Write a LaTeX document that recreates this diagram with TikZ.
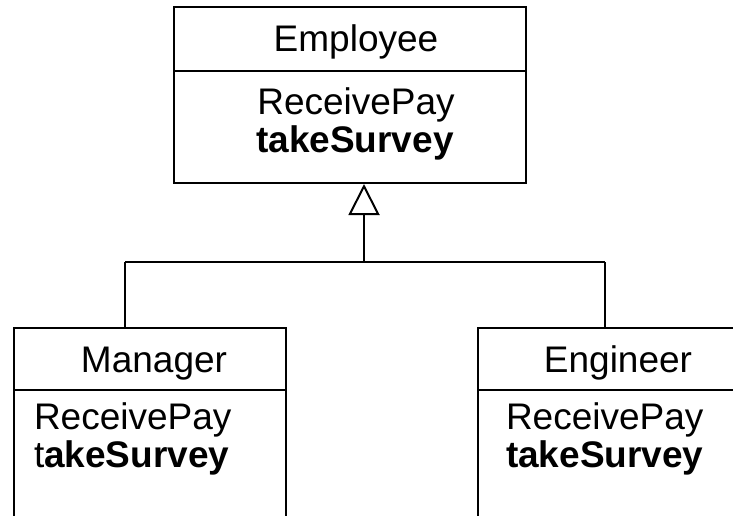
\documentclass[tikz,border=0pt]{standalone}
\usepackage{fontspec}
\setmainfont{Liberation Sans}
\usetikzlibrary{arrows.meta}
\begin{document}
\begin{tikzpicture}[x=1pt,y=-1pt,line width=2pt,
  cls/.style={draw,rectangle,inner sep=0pt,anchor=north west},
  txt/.style={inner sep=0pt,font=\fontsize{37}{38}\selectfont},
  gen/.style={-{Triangle[open,length=31pt,width=31pt]}}]
\useasboundingbox (0,0) rectangle (733,515);
\clip (0,0) rectangle (733,515);
% classes
\node[cls,minimum width=352pt,minimum height=176pt] (emp) at (173,6) {};
\node[cls,minimum width=272pt,minimum height=220pt] (mgr) at (13,327) {};
\node[cls,minimum width=300pt,minimum height=220pt] (eng) at (477,327) {};
% dividers
\draw (173,71) -- (525,71);
\draw (13,390) -- (285,390);
\draw (477,390) -- (777,390);
% texts
\node[txt,anchor=base] (empname) at (356,51) {Employee};
\node[txt,anchor=base] (emprp) at (356,114) {ReceivePay};
\node[txt,anchor=base] (empts) at (355,152) {\bfseries takeSurvey};
\node[txt,anchor=base] (mgrname) at (154,372) {Manager};
\node[txt,anchor=base west] (mgrrp) at (33,429) {ReceivePay};
\node[txt,anchor=base west] (mgrts) at (33,467) {t\textbf{akeSurvey}};
\node[txt,anchor=base] (engname) at (618,372) {Engineer};
\node[txt,anchor=base west] (engrp) at (505,429) {ReceivePay};
\node[txt,anchor=base west] (engts) at (505,467) {\bfseries takeSurvey};
% connectors
\coordinate (j) at (364,262);
\coordinate (ml) at (125,262);
\coordinate (er) at (605,262);
\draw[gen] (j) -- (j |- emp.south);
\draw (ml) -- (er);
\draw (ml) -- (ml |- mgr.north);
\draw (er) -- (er |- eng.north);
\end{tikzpicture}
\end{document}
